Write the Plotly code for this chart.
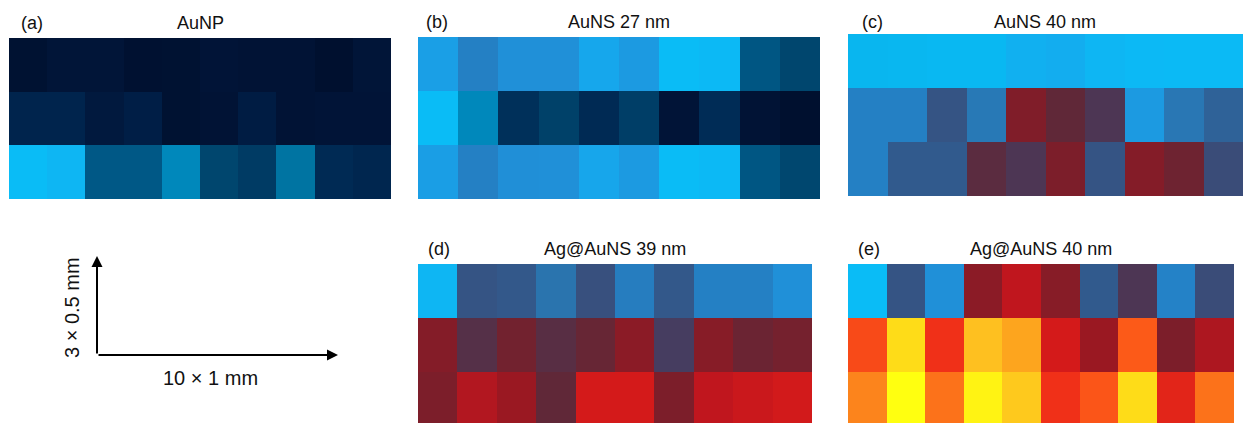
import plotly.graph_objects as go

W, H = 1243, 423

# ---------- data (normalised intensity, rows top->bottom, 10 columns) ----------
titles = ["AuNP", "AuNS 27 nm", "AuNS 40 nm", "Ag@AuNS 39 nm", "Ag@AuNS 40 nm"]
labels = ["(a)", "(b)", "(c)", "(d)", "(e)"]

z_aunp = [
    [0.010, 0.030, 0.030, 0.005, 0.010, 0.025, 0.020, 0.020, 0.000, 0.030],
    [0.070, 0.070, 0.040, 0.055, 0.010, 0.020, 0.050, 0.020, 0.025, 0.025],
    [0.300, 0.310, 0.180, 0.180, 0.260, 0.140, 0.120, 0.220, 0.085, 0.075],
]
z_auns27 = [
    [0.350, 0.420, 0.380, 0.380, 0.335, 0.360, 0.300, 0.305, 0.175, 0.140],
    [0.300, 0.260, 0.100, 0.130, 0.085, 0.125, 0.025, 0.090, 0.020, 0.000],
    [0.352, 0.420, 0.382, 0.380, 0.337, 0.360, 0.300, 0.305, 0.175, 0.142],
]
z_auns40 = [
    [0.295, 0.296, 0.297, 0.297, 0.320, 0.325, 0.310, 0.305, 0.303, 0.303],
    [0.420, 0.420, 0.520, 0.445, 0.665, 0.620, 0.585, 0.360, 0.450, 0.490],
    [0.420, 0.505, 0.505, 0.610, 0.585, 0.660, 0.520, 0.670, 0.640, 0.540],
]
z_agauns39 = [
    [0.310, 0.520, 0.510, 0.460, 0.530, 0.430, 0.510, 0.420, 0.420, 0.380],
    [0.670, 0.600, 0.645, 0.605, 0.630, 0.680, 0.570, 0.675, 0.635, 0.650],
    [0.660, 0.725, 0.700, 0.620, 0.780, 0.780, 0.660, 0.740, 0.760, 0.775],
]
z_agauns40 = [
    [0.300, 0.520, 0.380, 0.680, 0.740, 0.675, 0.505, 0.585, 0.415, 0.540],
    [0.845, 0.970, 0.820, 0.940, 0.920, 0.780, 0.700, 0.860, 0.660, 0.720],
    [0.895, 1.000, 0.880, 0.990, 0.950, 0.820, 0.855, 0.970, 0.800, 0.880],
]
panels_z = [z_aunp, z_auns27, z_auns40, z_agauns39, z_agauns40]

scale_x_label = "10 × 1 mm"
scale_y_label = "3 × 0.5 mm"

colorscale = [
    [0.00, "#00102f"], [0.03, "#011538"], [0.06, "#002049"], [0.10, "#00305a"],
    [0.14, "#00466e"], [0.18, "#005886"], [0.22, "#0074a2"], [0.26, "#0088bb"],
    [0.30, "#0abcf6"], [0.34, "#18a4ea"], [0.38, "#2090d8"], [0.42, "#2480c4"],
    [0.46, "#2a74ae"], [0.50, "#305c90"], [0.54, "#3a4c78"], [0.58, "#4a3858"],
    [0.62, "#602838"], [0.66, "#7c1e2a"], [0.70, "#9a1822"], [0.74, "#c0161e"],
    [0.78, "#d41a1a"], [0.82, "#f03018"], [0.86, "#fc5a18"], [0.90, "#fc8a1c"],
    [0.94, "#fec020"], [0.97, "#fedc18"], [1.00, "#ffff10"],
]

# ---------- layout geometry (pixels) ----------
# (x0, x1, y0_top, y1_bottom, y_range_bottom)
boxes = [
    (9, 391, 38, 199, 2.5),
    (418, 820, 37, 199, 2.5),
    (848, 1243, 34, 196, 2.5),
    (418, 812, 264, 423, 2.44),
    (848, 1234, 264, 423, 2.44),
]
title_pos = [
    (32, 200, 23), (437, 619, 22), (872, 1045, 22), (439, 615, 249), (869, 1041, 249)
]

fig = go.Figure()
FONT = "Arial, Liberation Sans, Helvetica, sans-serif"
annotations = []
for i, (z, (x0, x1, yt, yb, yr)) in enumerate(zip(panels_z, boxes)):
    n = "" if i == 0 else str(i + 1)
    fig.add_trace(go.Heatmap(
        z=z, x=list(range(10)), y=list(range(3)),
        colorscale=colorscale, zmin=0, zmax=1, showscale=False,
        xaxis="x" + n, yaxis="y" + n, hoverinfo="z",
    ))
    ax = dict(domain=[x0 / W, x1 / W], range=[-0.5, 9.5], visible=False,
              anchor="y" + n, fixedrange=True)
    ay = dict(domain=[1 - yb / H, 1 - yt / H], range=[yr, -0.5], visible=False,
              anchor="x" + n, fixedrange=True)
    fig.layout["xaxis" + n] = ax
    fig.layout["yaxis" + n] = ay
    lx, tx, ty = title_pos[i]
    annotations.append(dict(text=labels[i], x=lx / W, y=1 - ty / H, xref="paper", yref="paper",
                            showarrow=False, font=dict(size=18, color="#111", family=FONT),
                            xanchor="center", yanchor="middle"))
    annotations.append(dict(text=titles[i], x=tx / W, y=1 - ty / H, xref="paper", yref="paper",
                            showarrow=False, font=dict(size=18, color="#111", family=FONT),
                            xanchor="center", yanchor="middle"))

# scale arrows
ox, oy = 97, 355
annotations.append(dict(x=338 / W, y=1 - oy / H, xref="paper", yref="paper", ax=ox - 338, ay=0,
                        axref="pixel", ayref="pixel", text="", showarrow=True,
                        arrowhead=2, arrowsize=1.1, arrowwidth=2, arrowcolor="#000"))
annotations.append(dict(x=ox / W, y=1 - 256 / H, xref="paper", yref="paper", ax=0, ay=oy - 256,
                        axref="pixel", ayref="pixel", text="", showarrow=True,
                        arrowhead=2, arrowsize=1.1, arrowwidth=2, arrowcolor="#000"))
annotations.append(dict(text=scale_x_label, x=211 / W, y=1 - 378 / H, xref="paper", yref="paper",
                        showarrow=False, font=dict(size=20, color="#111", family=FONT),
                        xanchor="center", yanchor="middle"))
annotations.append(dict(text=scale_y_label, x=72 / W, y=1 - 308 / H, xref="paper", yref="paper",
                        showarrow=False, textangle=-90, font=dict(size=20, color="#111", family=FONT),
                        xanchor="center", yanchor="middle"))

fig.update_layout(width=W, height=H, margin=dict(l=0, r=0, t=0, b=0),
                  paper_bgcolor="white", plot_bgcolor="white",
                  annotations=annotations, showlegend=False)

fig.write_html("out.html", config={"displayModeBar": False})
